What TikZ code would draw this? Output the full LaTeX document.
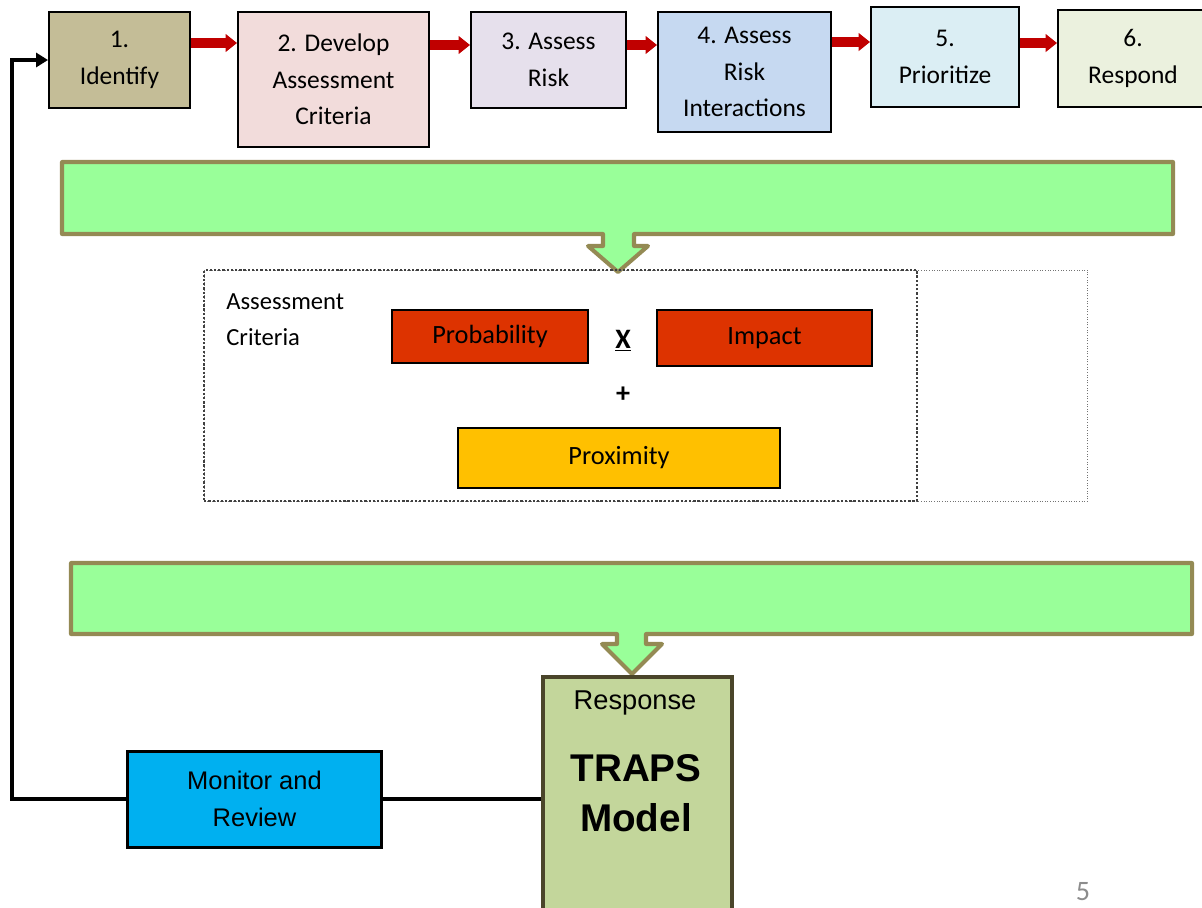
\documentclass[tikz,border=0pt]{standalone}
\usepackage{fontspec}
\setmainfont{Carlito}
\newfontfamily\arialfont{Liberation Sans}
\usetikzlibrary{arrows.meta,positioning}
\definecolor{stepA}{HTML}{C4BD97}
\definecolor{stepB}{HTML}{F2DCDB}
\definecolor{stepC}{HTML}{E6E0EC}
\definecolor{stepD}{HTML}{C6D9F1}
\definecolor{stepE}{HTML}{DBEEF4}
\definecolor{stepF}{HTML}{EBF1DE}
\definecolor{arrred}{HTML}{C00000}
\definecolor{callfill}{HTML}{99FF99}
\definecolor{calltrim}{HTML}{948A54}
\definecolor{factred}{HTML}{DD3300}
\definecolor{factyel}{HTML}{FFC000}
\definecolor{monblue}{HTML}{00B0F0}
\definecolor{respgreen}{HTML}{C3D69B}
\definecolor{resptrim}{HTML}{4A452A}
\definecolor{pggray}{HTML}{8C8C8C}
\tikzset{
  stepbox/.style={draw, rectangle, line width=1.1pt, align=center, font=\fontsize{14.5}{20.8}\selectfont, inner sep=2pt},
  factor/.style={draw, rectangle, line width=1.5pt, align=center, font=\fontsize{15}{18}\selectfont, inner sep=2pt},
  critbox/.style={draw=black!75, rectangle, line width=1.1pt, dash pattern=on 1.3pt off 1.1pt},
  outerdot/.style={draw=black!55, rectangle, line width=0.5pt, densely dotted},
  lbl/.style={font=\fontsize{14}{20.4}\selectfont, inner sep=0pt},
  opsign/.style={font=\bfseries\fontsize{16}{18}\selectfont, inner sep=1pt},
  callout/.style={draw=calltrim, fill=callfill, line width=2.3pt, line join=round},
  redarr/.style={-{Triangle[length=2.3mm, width=3.5mm]}, line width=5.8pt, draw=arrred, fill=arrred},
  looparr/.style={-{Triangle[length=2.4mm, width=2.8mm]}, line width=2.2pt},
  link/.style={line width=2.2pt},
  monbox/.style={draw, rectangle, line width=1.7pt, fill=monblue, align=center, font=\arialfont\fontsize{14.5}{21}\selectfont},
  respbox/.style={draw=resptrim, rectangle, line width=2.4pt, fill=respgreen},
}
\begin{document}
\begin{tikzpicture}[x=0.02cm, y=-0.02cm]
\useasboundingbox (0,0) rectangle (1202,907);
% process steps
\node[stepbox, fill=stepA, minimum width=2.82cm, minimum height=1.92cm] (idf) at (119.5,60) {1.\\Identify};
\node[stepbox, fill=stepB, minimum width=3.82cm, minimum height=2.70cm] (dev) at (333.5,79.5) {2. Develop\\Assessment\\Criteria};
\node[stepbox, fill=stepC, minimum width=3.10cm, minimum height=1.92cm] (asr) at (548.5,60) {3. Assess\\Risk};
\node[stepbox, fill=stepD, minimum width=3.46cm, minimum height=2.40cm] (ari) at (744.5,72) {4. Assess\\Risk\\Interactions};
\node[stepbox, fill=stepE, minimum width=2.96cm, minimum height=2.00cm] (pri) at (945,57) {5.\\Prioritize};
\node[stepbox, fill=stepF, minimum width=3.00cm, minimum height=1.94cm] (rspd) at (1133,58.5) {6.\\Respond};
\foreach \a/\b/\h in {idf/dev/43, dev/asr/45, asr/ari/45, ari/pri/42, pri/rspd/43}
  \draw[redarr] (\a.east |- 0,\h) -- (\b.west |- 0,\h);

% first callout
\draw[callout] (62,162) -- (1173,162) -- (1173,234) -- (634,234) -- (634,246) -- (648,246) -- (618,272)
  -- (588,246) -- (603,246) -- (603,234) -- (62,234) -- cycle;

% assessment criteria
\node[outerdot, minimum width=17.68cm, minimum height=4.62cm] (critw) at (646,385.5) {};
\node[critbox, minimum width=14.26cm, minimum height=4.62cm] (crit) at (560.5,385.5) {};
\node[lbl, anchor=west, align=left] (clbl) at (226,320) {Assessment\\Criteria};
\node[factor, fill=factred, minimum width=3.92cm, minimum height=1.06cm] (prob) at (490,336.5) {Probability};
\node[factor, fill=factred, minimum width=4.30cm, minimum height=1.12cm] (imp) at (764.5,338) {Impact};
\node[opsign] (xop) at (623,341) {\underline{X}};
\node[opsign] (plusop) at (623,395) {+};
\node[factor, fill=factyel, minimum width=6.44cm, minimum height=1.20cm] (prox) at (619,458) {Proximity};

% second callout
\draw[callout] (71,563) -- (1192,563) -- (1192,634) -- (646,634) -- (646,644) -- (662,644) -- (632,674)
  -- (602,644) -- (617,644) -- (617,634) -- (71,634) -- cycle;

% response and review loop
\node[respbox, minimum width=3.78cm, minimum height=4.92cm] (trp) at (637.5,800) {};
\node[font=\arialfont\fontsize{15.5}{18}\selectfont] (resp) at (635,703) {Response};
\node[font=\arialfont\bfseries\fontsize{22}{28.5}\selectfont, align=center] (traps) at (636,793) {TRAPS\\Model};
\node[monbox, minimum width=5.08cm, minimum height=1.92cm] (mon) at (254.5,799) {Monitor and\\Review};
\coordinate (lft) at (12,60);
\draw[link] (mon.east) -- (mon.east -| trp.west);
\draw[looparr] (mon.west) -| (lft) -- (idf.west);
\node[text=pggray, font=\fontsize{16}{18}\selectfont] (pgno) at (1083,892) {5};
\end{tikzpicture}
\end{document}
